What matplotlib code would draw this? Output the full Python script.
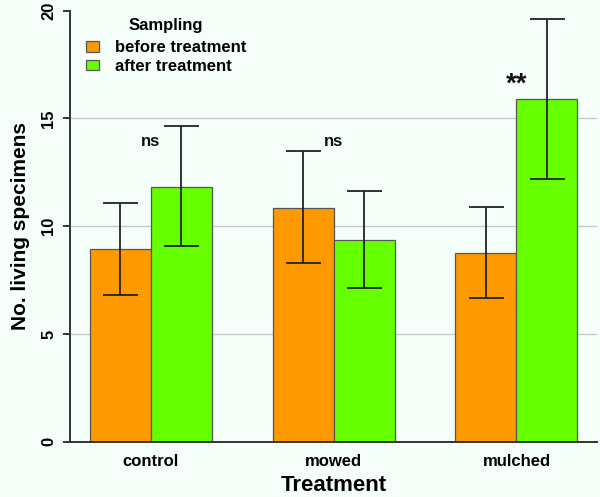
#!/usr/bin/env python3
import matplotlib

matplotlib.use("Agg")
import matplotlib.pyplot as plt
from matplotlib.patches import Patch
import numpy as np

plt.rcParams["font.family"] = ["Liberation Sans", "DejaVu Sans"]
plt.rcParams["font.weight"] = "bold"

TREATMENTS = ["control", "mowed", "mulched"]
BEFORE_MEAN = [8.93, 10.86, 8.76]
BEFORE_LOW = [6.81, 8.31, 6.68]
BEFORE_HIGH = [11.08, 13.49, 10.88]
AFTER_MEAN = [11.83, 9.36, 15.89]
AFTER_LOW = [9.08, 7.13, 12.20]
AFTER_HIGH = [14.64, 11.62, 19.60]
SIG_LABELS = ["ns", "ns", "**"]
SIG_Y = [13.95, 13.95, 16.55]

BG = "#f5fffa"
ORANGE = "#ff9900"
GREEN = "#66ff00"
EDGE = "#555555"

fig = plt.figure(figsize=(6.0, 4.97), dpi=100)
fig.patch.set_facecolor(BG)
ax = fig.add_axes([0.1167, 0.1113, 0.8783, 0.8672])
ax.set_facecolor(BG)

centers = np.arange(len(TREATMENTS)) * 3 + 2

for y in [5, 10, 15]:
    ax.axhline(y, color="#c8c8c8", linewidth=1.0, zorder=0)

before_err = [np.subtract(BEFORE_MEAN, BEFORE_LOW), np.subtract(BEFORE_HIGH, BEFORE_MEAN)]
after_err = [np.subtract(AFTER_MEAN, AFTER_LOW), np.subtract(AFTER_HIGH, AFTER_MEAN)]

ax.bar(centers - 0.5, BEFORE_MEAN, width=1.0, color=ORANGE, edgecolor=EDGE,
       linewidth=0.9, zorder=2)
ax.bar(centers + 0.5, AFTER_MEAN, width=1.0, color=GREEN, edgecolor=EDGE,
       linewidth=0.9, zorder=2)
ax.errorbar(centers - 0.5, BEFORE_MEAN, yerr=before_err, fmt="none", ecolor="#222222",
            elinewidth=1.3, capsize=12.6, capthick=1.3, zorder=3)
ax.errorbar(centers + 0.5, AFTER_MEAN, yerr=after_err, fmt="none", ecolor="#222222",
            elinewidth=1.3, capsize=12.6, capthick=1.3, zorder=3)

for x, lab, y in zip(centers, SIG_LABELS, SIG_Y):
    size = 20 if lab == "**" else 12
    ax.text(x, y, lab, ha="center", va="center", fontsize=size, fontweight="bold",
            color="#111111", zorder=4)

ax.set_xlim(0.68, 9.32)
ax.set_ylim(0, 20)
ax.set_yticks([0, 5, 10, 15, 20])
ax.set_xticks(centers)
ax.set_xticklabels(TREATMENTS)
ax.tick_params(axis="y", length=5, width=1.4, color="#333333", labelsize=12, pad=5)
for lab in ax.get_yticklabels():
    lab.set_rotation(90)
    lab.set_va("center")
ax.tick_params(axis="x", length=0, labelsize=12, pad=9)

for side in ["top", "right"]:
    ax.spines[side].set_visible(False)
for side in ["left", "bottom"]:
    ax.spines[side].set_color("#333333")
    ax.spines[side].set_linewidth(1.4)

ax.set_xlabel("Treatment", fontsize=16, fontweight="bold", labelpad=4)
ax.set_ylabel("No. living specimens", fontsize=15, fontweight="bold", labelpad=8)

handles = [
    Patch(facecolor=ORANGE, edgecolor=EDGE, linewidth=0.9, label="before treatment"),
    Patch(facecolor=GREEN, edgecolor=EDGE, linewidth=0.9, label="after treatment"),
]
leg = ax.legend(handles=handles, title="Sampling", loc="upper left",
                bbox_to_anchor=(0.03, 0.982), frameon=False, fontsize=12,
                title_fontproperties={"size": 12, "weight": "bold"},
                borderpad=0, borderaxespad=0, handlelength=0.78, handleheight=0.6,
                handletextpad=0.95, labelspacing=0.22)
leg._legend_box.sep = 5

fig.savefig("out.png", dpi=100, facecolor=BG)
